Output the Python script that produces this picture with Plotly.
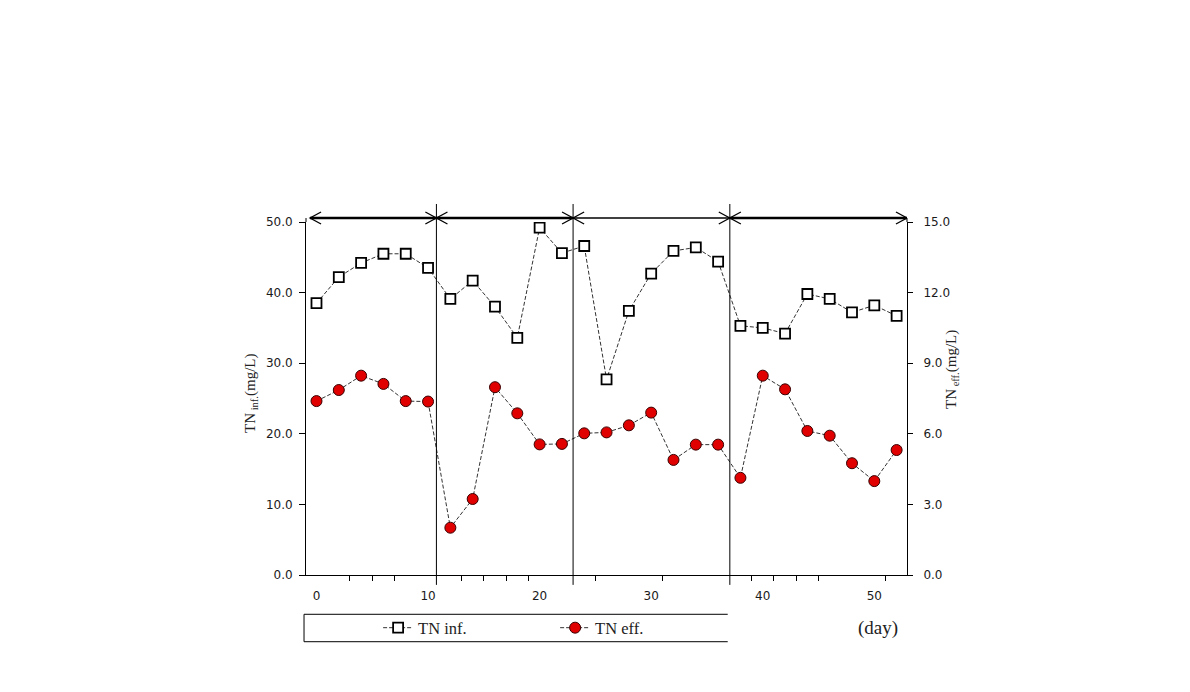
import plotly.graph_objects as go

# ---- data ----
days = [0, 2, 4, 6, 8, 10, 12, 14, 16, 18, 20, 22, 24, 26, 28, 30, 32, 34, 36,
        38, 40, 42, 44, 46, 48, 50, 52]
tn_inf = [38.5, 42.2, 44.2, 45.5, 45.5, 43.5, 39.1, 41.7, 38.0, 33.6, 49.2, 45.6,
          46.6, 27.7, 37.4, 42.7, 45.9, 46.4, 44.4, 35.3, 35.0, 34.2, 39.8, 39.1,
          37.2, 38.2, 36.7]
tn_eff = [7.39, 7.86, 8.47, 8.12, 7.39, 7.37, 2.01, 3.23, 7.98, 6.87, 5.55, 5.57,
          6.02, 6.06, 6.36, 6.90, 4.89, 5.54, 5.54, 4.13, 8.47, 7.89, 6.12, 5.92,
          4.75, 3.99, 5.31]
period_bounds = [10.75, 23.0, 37.05]
x_ticks = [0, 10, 20, 30, 40, 50]
minor_ticks = [3, 5, 7, 13, 15, 17, 19, 25, 31, 39, 41, 43, 45, 51]
y1_ticks = [0, 10, 20, 30, 40, 50]
y2_ticks = [0, 3, 6, 9, 12, 15]

X_MIN, X_MAX = -0.94, 52.93
TICKFONT = dict(family="DejaVu Sans", size=12, color="#1a1a1a")
SERIF = "Liberation Serif"

fig = go.Figure()
fig.add_trace(go.Scatter(
    x=days, y=tn_inf, name="TN inf.", mode="lines+markers",
    line=dict(color="#333333", width=1, dash="4px,2px"),
    marker=dict(symbol="square", size=10, color="white",
                line=dict(color="black", width=1.8)),
))
fig.add_trace(go.Scatter(
    x=days, y=tn_eff, name="TN eff.", mode="lines+markers", yaxis="y2",
    line=dict(color="#333333", width=1, dash="4px,2px"),
    marker=dict(symbol="circle", size=11, color="#e00000",
                line=dict(color="#3a0000", width=1)),
))

shapes = []
# period separators
for b in period_bounds:
    shapes.append(dict(type="line", xref="x", yref="paper", x0=b, x1=b,
                       y0=-0.028, y1=1.051, line=dict(color="black", width=1)))
# period arrows
ya = 1.0113
bounds = [X_MIN + 0.36] + period_bounds + [X_MAX]
widths = [2.5, 2.5, 1.5, 2.5]
dx, dy = 0.99, 0.017
for i in range(4):
    a, b = bounds[i], bounds[i + 1]
    shapes.append(dict(type="line", xref="x", yref="paper", x0=a, x1=b,
                       y0=ya, y1=ya, line=dict(color="black", width=widths[i])))
    shapes.append(dict(type="path", xref="x", yref="paper",
                       path=f"M {a+dx},{ya+dy} L {a},{ya} L {a+dx},{ya-dy}",
                       line=dict(color="black", width=1.3)))
    shapes.append(dict(type="path", xref="x", yref="paper",
                       path=f"M {b-dx},{ya+dy} L {b},{ya} L {b-dx},{ya-dy}",
                       line=dict(color="black", width=1.3)))
# axis line extensions up to arrows
for xp in (0, 1):
    shapes.append(dict(type="line", xref="paper", yref="paper", x0=xp, x1=xp,
                       y0=1.0, y1=ya, line=dict(color="black", width=1)))
# legend box (open on right)
lx0, lx1, ly0, ly1 = -0.0033, 0.7017, -0.189, -0.1113
shapes.append(dict(type="line", xref="paper", yref="paper", x0=lx0, x1=lx1,
                   y0=ly1, y1=ly1, line=dict(color="black", width=1)))
shapes.append(dict(type="line", xref="paper", yref="paper", x0=lx0, x1=lx1,
                   y0=ly0, y1=ly0, line=dict(color="black", width=1)))
shapes.append(dict(type="line", xref="paper", yref="paper", x0=lx0, x1=lx0,
                   y0=ly0, y1=ly1, line=dict(color="black", width=1)))

annotations = [
    dict(text="TN<sub> inf.</sub>(mg/L)", xref="paper", yref="paper",
         x=-0.0915, y=0.513, textangle=-90, showarrow=False,
         xanchor="center", yanchor="middle",
         font=dict(family=SERIF, size=15, color="#222222")),
    dict(text="TN<sub> eff.</sub>(mg/L)", xref="paper", yref="paper",
         x=1.075, y=0.581, textangle=-90, showarrow=False,
         xanchor="center", yanchor="middle",
         font=dict(family=SERIF, size=15, color="#222222")),
    dict(text="(day)", xref="paper", yref="paper", x=0.952, y=-0.150,
         showarrow=False, xanchor="center", yanchor="middle",
         font=dict(family=SERIF, size=19, color="#222222")),
]

fig.update_layout(
    width=1190, height=692,
    margin=dict(l=306, r=283, t=222, b=117),
    paper_bgcolor="white", plot_bgcolor="white",
    showlegend=True,
    legend=dict(orientation="h", x=0.120, y=-0.150, xanchor="left",
                yanchor="middle", font=dict(family=SERIF, size=16.5, color="#222222"),
                bgcolor="rgba(0,0,0,0)", entrywidth=132, entrywidthmode="pixels",
                itemwidth=30),
    xaxis=dict(range=[X_MIN, X_MAX], tickvals=x_ticks,
               ticktext=[str(v) for v in x_ticks], ticks="", showgrid=False,
               zeroline=False, showline=True, linecolor="black", linewidth=1,
               tickfont=TICKFONT, ticklabelstandoff=10,
               minor=dict(tickvals=minor_ticks, ticks="outside", ticklen=5,
                          tickcolor="black", showgrid=False)),
    yaxis=dict(range=[0, 50], tickvals=y1_ticks,
               ticktext=[f"{v:.1f}" for v in y1_ticks], ticks="outside",
               ticklen=6, tickcolor="black", showgrid=False, zeroline=False,
               showline=True, linecolor="black", linewidth=1,
               tickfont=TICKFONT, ticklabelstandoff=4),
    yaxis2=dict(range=[0, 15], overlaying="y", side="right", tickvals=y2_ticks,
                ticktext=[f"{v:.1f}" for v in y2_ticks], ticks="outside",
                ticklen=5, tickcolor="black", showgrid=False, zeroline=False,
                showline=True, linecolor="black", linewidth=1,
                tickfont=TICKFONT, ticklabelstandoff=8),
    shapes=shapes,
    annotations=annotations,
)

fig.write_html("out.html")
